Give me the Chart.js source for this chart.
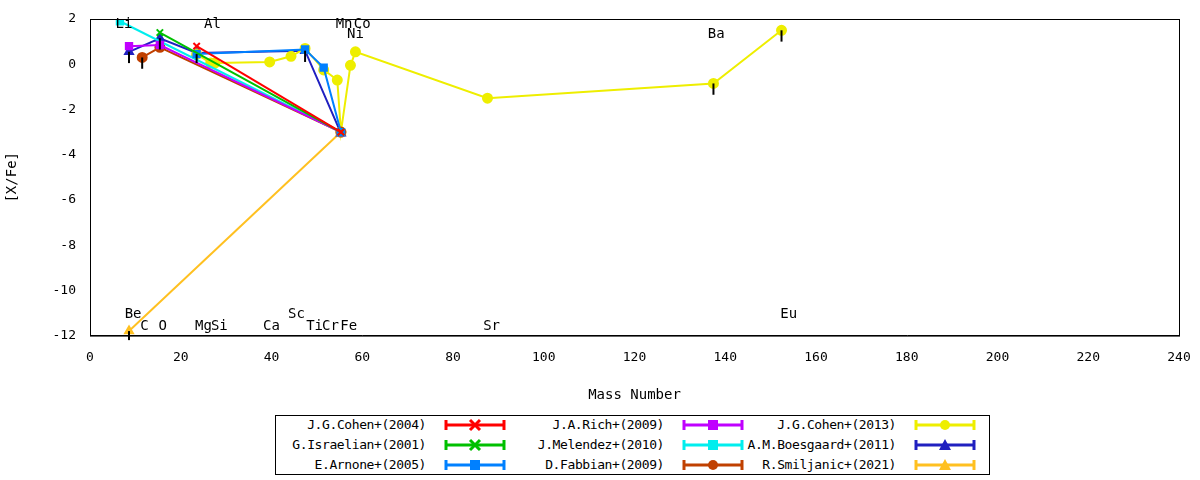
<!DOCTYPE html>
<html><head><meta charset="utf-8">
<script src="https://cdn.jsdelivr.net/npm/chart.js@4/dist/chart.umd.min.js"></script>
<style>
body{margin:0;background:#fff;font-family:"DejaVu Sans Mono",monospace;}
#wrap{position:relative;width:1200px;height:408px;}
#legend{position:absolute;left:275px;top:415px;width:713px;height:58px;border:1px solid #000;font-size:13px;}
.it{position:absolute;height:20px;line-height:20px;}
.lab{position:absolute;right:88px;text-align:right;white-space:nowrap;letter-spacing:-0.4px;}
.smp{position:absolute;right:0;width:78px;height:20px;}
</style></head><body>
<div id="wrap"><canvas id="c" width="1200" height="408"></canvas></div>
<div id="legend"></div>
<script>
const M={Li:6.6,Be:8.6,C:11.5,O:15.4,Mg:23.5,Al:26.6,Si:27.5,Ca:39.6,Sc:44.3,Ti:47.4,Cr:51.5,Mn:54.5,Fe:55.3,Ni:57.4,Co:58.5,Sr:87.6,Ba:137.4,Eu:152.4};
const seriesNames=["J.G.Cohen+(2004)","G.Israelian+(2001)","E.Arnone+(2005)","J.A.Rich+(2009)","J.Melendez+(2010)","D.Fabbian+(2009)","J.G.Cohen+(2013)","A.M.Boesgaard+(2011)","R.Smiljanic+(2021)"];
const seriesColors=["#ff0000","#00c000","#0080ff","#c000ff","#00eeee","#c04000","#eeee00","#2020c0","#ffc020"];
const seriesStyles=["crossRot","crossRot","rect","rect","rect","circle","circle","triangle","triangle"];
const cohen04El=["Mg","Fe"], cohen04Val=[0.8,-3.0];
const israelianEl=["O","Fe"], israelianVal=[1.4,-3.0];
const arnoneEl=["Mg","Ti","Cr","Fe"], arnoneVal=[0.45,0.65,-0.15,-3.0];
const richEl=["Be","O","Fe"], richVal=[0.8,0.85,-3.0];
const melendezEl=["Li","Fe"], melendezVal=[1.9,-3.0];
const fabbianEl=["C","O","Fe"], fabbianVal=[0.3,0.75,-3.0];
const cohen13El=["Mg","Al","Si","Ca","Sc","Ti","Cr","Mn","Fe","Ni","Co","Sr","Ba","Eu"];
const cohen13Val=[0.45,0.05,0.05,0.1,0.35,0.7,-0.25,-0.7,-3.0,-0.05,0.55,-1.5,-0.85,1.5];
const boesEl=["Be","O","Mg","Ti","Fe"], boesVal=[0.55,1.15,0.5,0.6,-3.05];
const smilEl=["Be","Fe"], smilVal=[-11.8,-3.0];
const allEl=[cohen04El,israelianEl,arnoneEl,richEl,melendezEl,fabbianEl,cohen13El,boesEl,smilEl];
const allVal=[cohen04Val,israelianVal,arnoneVal,richVal,melendezVal,fabbianVal,cohen13Val,boesVal,smilVal];
const labelNames=["Li","Al","Mn","Co","Ni","Ba","Be","Sc","Eu","C","O","Mg","Si","Ca","Ti","Cr","Fe","Sr"];
const labelX=[7.5,27,56,60,58.5,138,9.5,45.5,154,12,16,25,28.5,40,49.5,53,57,88.5];
const labelY=[1.75,1.75,1.75,1.75,1.3,1.3,-11.05,-11.05,-11.05,-11.6,-11.6,-11.6,-11.6,-11.6,-11.6,-11.6,-11.6,-11.6];
const errSeries=[7,5,7,7,6,6,6,8], errEl=["Be","C","O","Ti","Ba","Eu","Mg","Be"], errLen=[0.5,0.5,0.5,0.5,0.5,0.5,0.4,0.4];

const datasets=allEl.map((els,i)=>({
  label:seriesNames[i],
  data:els.map((e,k)=>({x:M[e],y:allVal[i][k]})).sort((a,b)=>a.x-b.x),
  borderColor:seriesColors[i],backgroundColor:seriesColors[i],
  pointStyle:seriesStyles[i],pointRadius:4.5,borderWidth:2,pointBorderWidth:2,showLine:true
}));
const extras={id:'extras',
 afterDatasetsDraw(ch){
  const c=ch.ctx,xs=ch.scales.x,ys=ch.scales.y;
  c.save();c.strokeStyle='#000';c.lineWidth=2;
  errEl.forEach((e,i)=>{const s=errSeries[i];const k=allEl[s].indexOf(e);const v=allVal[s][k];
    c.beginPath();c.moveTo(xs.getPixelForValue(M[e]),ys.getPixelForValue(v));
    c.lineTo(xs.getPixelForValue(M[e]),ys.getPixelForValue(v-errLen[i]));c.stroke();});
  c.fillStyle='#000';c.font='14px "DejaVu Sans Mono"';c.textAlign='center';c.textBaseline='middle';
  labelNames.forEach((n,i)=>c.fillText(n,xs.getPixelForValue(labelX[i]),ys.getPixelForValue(labelY[i])));
  const a=ch.chartArea;c.lineWidth=1;c.strokeRect(a.left+0.5,a.top+0.5,a.right-a.left,a.bottom-a.top);
  c.restore();}
};
const tickFont={family:'"DejaVu Sans Mono"',size:13};
new Chart(document.getElementById('c'),{type:'scatter',data:{datasets},
 options:{responsive:false,animation:false,layout:{padding:{top:19,right:21,left:0,bottom:0}},
  plugins:{legend:{display:false},tooltip:{enabled:false}},
  scales:{
   x:{type:'linear',min:0,max:240,ticks:{stepSize:20,color:'#000',font:tickFont,padding:6},grid:{display:false},border:{color:'#000'},
      title:{display:true,text:'Mass Number',color:'#000',font:{family:'"DejaVu Sans Mono"',size:14},padding:{top:16}}},
   y:{min:-12,max:2,ticks:{stepSize:2,color:'#000',font:tickFont,padding:6},grid:{display:false},border:{color:'#000'},
      title:{display:true,text:'[X/Fe]',color:'#000',font:{family:'"DejaVu Sans Mono"',size:14},padding:{bottom:22}},
      afterFit(s){s.width=90;}}
  }},plugins:[extras]});
const lg=document.getElementById('legend');
seriesNames.forEach((n,i)=>{
 const col=Math.floor(i/3),row=i%3;
 const d=document.createElement('div');d.className='it';
 d.style.left=(col*238)+'px';d.style.width=(col==2?232:238)+'px';d.style.top=(row*20-1)+'px';
 const st=seriesStyles[i],cl=seriesColors[i];
 let mk=st=='circle'?`<circle cx="39" cy="10" r="5" fill="${cl}"/>`:st=='rect'?`<rect x="34" y="5" width="10" height="10" fill="${cl}"/>`:st=='triangle'?`<polygon points="39,4 45,15 33,15" fill="${cl}"/>`:`<path d="M34 5L44 15M44 5L34 15" stroke="${cl}" stroke-width="3"/>`;
 d.innerHTML=`<span class="lab">${n}</span><svg class="smp" viewBox="0 0 78 20"><line x1="10" y1="10" x2="68" y2="10" stroke="${cl}" stroke-width="3"/><line x1="10" y1="5" x2="10" y2="15" stroke="${cl}" stroke-width="3"/><line x1="68" y1="5" x2="68" y2="15" stroke="${cl}" stroke-width="3"/>${mk}</svg>`;
 lg.appendChild(d);});
</script></body></html>
